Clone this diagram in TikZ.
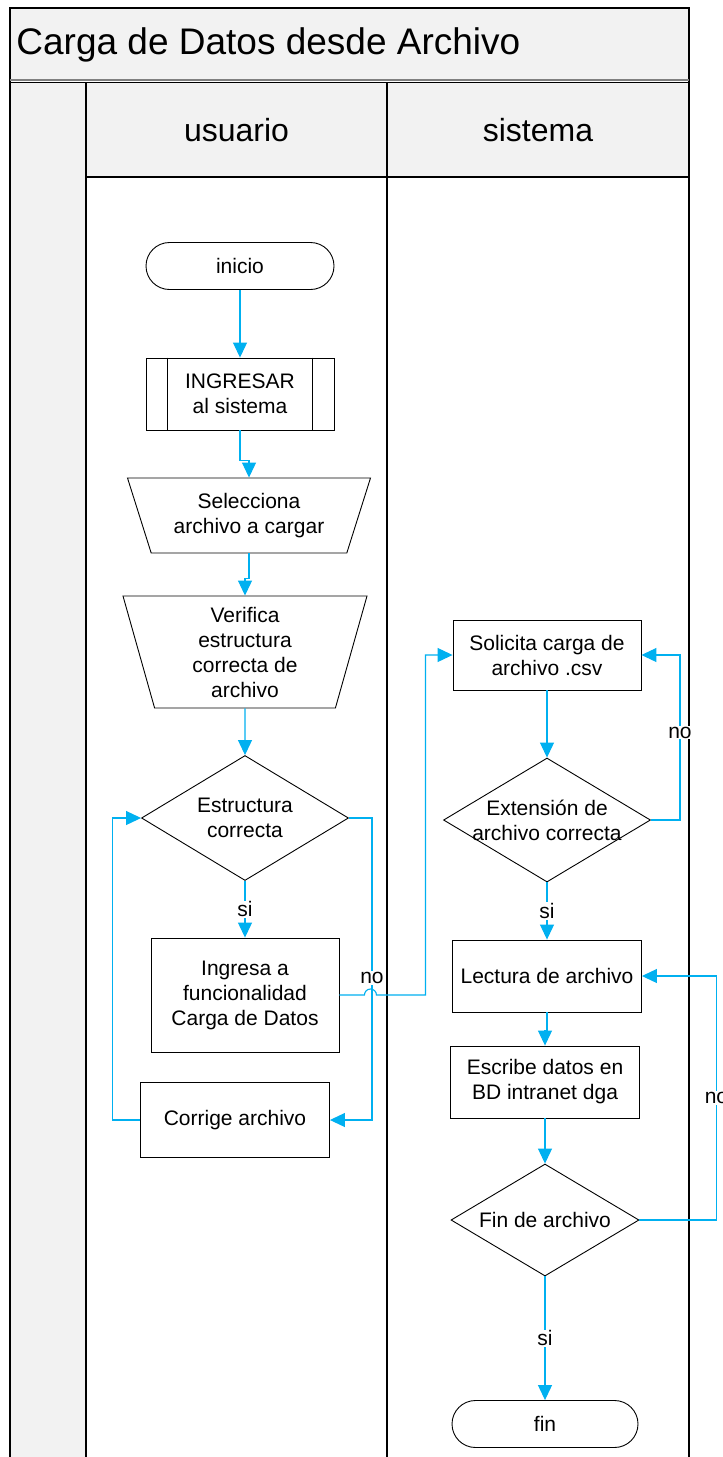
\documentclass[tikz,border=0pt]{standalone}
\usepackage{fontspec}
\setmainfont{Liberation Sans}
\usepackage{tikz}
\usetikzlibrary{shapes.geometric}
\usetikzlibrary{arrows.meta}
\definecolor{flujo}{RGB}{0,176,240}
\definecolor{carril}{RGB}{242,242,242}
\newcommand{\cuerpo}{\fontsize{21}{25}\selectfont}

\begin{document}
\begin{tikzpicture}[x=1pt,y=-1pt,
  every node/.style={font=\cuerpo,line width=0.9pt},
  term/.style={draw,rectangle,rounded corners=23.5pt,minimum width=188pt,minimum height=47pt},
  proc/.style={draw,rectangle,align=center,minimum width=188pt,minimum height=72pt},
  io/.style={draw,trapezium,shape border rotate=180,trapezium stretches body,align=center,inner sep=2pt},
  dec/.style={draw,diamond,align=center,aspect=1.66,inner sep=-20pt},
  flowline/.style={color=flujo,line width=1.1pt,-{Triangle[length=15pt,width=14pt]}},
  lbl/.style={fill=white,text=black,inner sep=1pt}]
\useasboundingbox (0,0) rectangle (723,1457);
\fill[white] (0,0) rectangle (723,1457);

%frame and lanes
\fill[carril] (10,8) rectangle (689,80);
\fill[carril] (10,82) rectangle (86,1460);
\fill[carril] (86,82) rectangle (689,177);
\draw[line width=1.4pt] (10,1460) -- (10,8) -- (689,8) -- (689,1460);
\draw[gray,line width=1.4pt] (10,80) -- (689,80);
\draw[line width=1.4pt] (10,82.5) -- (689,82.5);
\draw[line width=1.4pt] (86,82) -- (86,1460) (387,82) -- (387,1460) (86,177) -- (689,177);

\path (16,45) node (titulo) [anchor=west,inner sep=0,font=\fontsize{37}{44}\selectfont] {Carga de Datos desde Archivo}
      (236.5,130) node (usuario) [font=\fontsize{32}{38}\selectfont] {usuario}
      (538,130) node (sistema) [font=\fontsize{32}{38}\selectfont] {sistema};

% usuario
\path (240,266) node (inicio) [term] {inicio}
      (240,394) node (ingresar) [proc] {INGRESAR\\al sistema}
      (249,515.5) node (selecciona) [io,minimum width=243pt,minimum height=75pt,
        trapezium left angle=64,trapezium right angle=64] {Selecciona\\archivo a cargar}
      (245,652) node (verifica) [io,minimum width=244pt,minimum height=112pt,
        trapezium left angle=71.5,trapezium right angle=71.5] {Verifica\\estructura\\correcta de\\archivo}
      (245,818) node (estructura) [dec,minimum width=207pt,minimum height=125pt] {Estructura\\correcta}
      (245,995) node (ingresa) [proc,minimum height=114pt] {Ingresa a\\funcionalidad\\Carga de Datos}
      (235,1120) node (corrige) [proc,minimum width=189pt,minimum height=75pt] {Corrige archivo};

\draw[line width=0.9pt] ([xshift=22pt]ingresar.north west) -- ([xshift=22pt]ingresar.south west)
  ([xshift=-22pt]ingresar.north east) -- ([xshift=-22pt]ingresar.south east);

% sistema
\path (547,655) node (solicita) [proc,minimum height=70pt] {Solicita carga de\\archivo .csv}
      (547,820) node (extension) [dec,minimum width=207pt,minimum height=124pt] {Extensión de\\archivo correcta}
      (547,976) node (lectura) [proc,minimum width=189pt] {Lectura de archivo}
      (545,1082) node (escribe) [proc,minimum width=189pt] {Escribe datos en\\BD intranet dga}
      (545,1220) node (findearchivo) [dec,minimum width=188pt,minimum height=112pt] {Fin de archivo}
      (545,1424) node (fin) [term,minimum width=186pt] {fin};

\draw[flowline]
  (inicio) edge (ingresar)
  (verifica) edge (estructura)
  (estructura) edge node [lbl] {si} (ingresa)
  (solicita) edge (extension)
  (extension) edge node [lbl] {si} (lectura)
  (escribe) edge (findearchivo)
  (findearchivo) edge node [lbl] {si} (fin);

\draw[flowline] (ingresar.south) -- ++(0,30) -| (selecciona.north);
\draw[flowline] (selecciona.south) -- ++(0,25) -| (verifica.north);
\draw[flowline] (lectura.south) -- ++(0,18) -| (escribe.north);

% loops
\draw[flowline] (estructura.east) -- ++(23,0) |- node [lbl,pos=0.265] {no} (corrige.east);
\draw[flowline] (corrige.west) -- ++(-28,0) |- (estructura.west);
\draw[flowline] (ingresa.east) -- ++(25,0) arc [start angle=180,end angle=360,radius=6]
  -- ++(49,0) |- (solicita.west);
\draw[flowline] (extension.east) -- ++(29,0) |- node [lbl,pos=0.265] {no} (solicita.east);
\draw[flowline] (findearchivo.east) -- ++(77,0) |- node [lbl,pos=0.25] {no} (lectura.east);

\end{tikzpicture}
\end{document}
